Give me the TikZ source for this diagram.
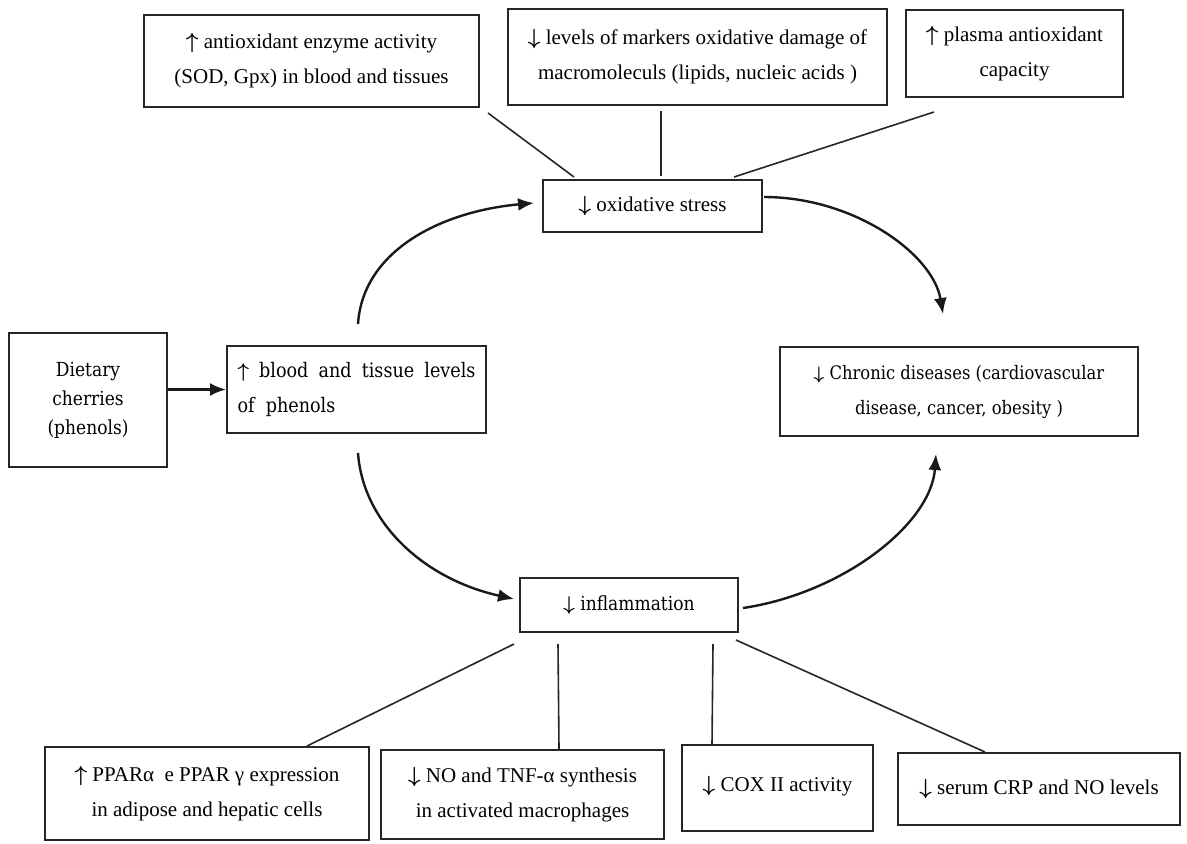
\documentclass[tikz,border=0pt]{standalone}
\usepackage{fontspec}
\setmainfont{Liberation Serif}
\newfontfamily\lucfont[FakeStretch=0.88]{DejaVu Serif}
\usetikzlibrary{calc, shapes, arrows, arrows.meta}
\newcommand{\upar}{{\boldmath$\uparrow$}}
\newcommand{\dnar}{{\boldmath$\downarrow$}}

\begin{document}
\begin{tikzpicture}[x=0.5pt,y=-0.5pt]
\tikzstyle{box}=[draw=black!85,line width=1pt,align=center,inner sep=2pt,font=\fontsize{10.5}{17.5}\selectfont]
\tikzstyle{lbox}=[box,font=\lucfont\fontsize{9.7}{14.5}\selectfont]
\tikzstyle{link}=[line width=0.8pt,black!85]
\tikzstyle{flow}=[line width=1.2pt,black!90,-{Latex[length=8pt,width=6.5pt]}]
\useasboundingbox (0,0) rectangle (1187,843);
\fill[white] (0,0) rectangle (1187,843);
% oxidative branch
\node[box,minimum width=167.5pt,minimum height=46pt] (antiox) at (311.5,61) {\upar\ antioxidant enzyme activity\\(SOD, Gpx) in blood and tissues};
\node[box,minimum width=189.5pt,minimum height=48pt] (levels) at (697.5,57) {\dnar\ levels of markers oxidative damage of\\macromoleculs (lipids, nucleic acids )};
\node[box,minimum width=108.5pt,minimum height=43.5pt] (plasma) at (1014.5,53.5) {\upar\ plasma antioxidant\\capacity};
\node[box,minimum width=109.5pt,minimum height=26pt] (ox) at (652.5,206) {\dnar\ oxidative stress};
% middle row
\node[lbox,minimum width=79pt,minimum height=67pt] (diet) at (88,400) {Dietary\\cherries\\(phenols)};
\node[lbox,align=left,minimum width=129.5pt,minimum height=43.5pt,font=\lucfont\fontsize{10}{17.5}\selectfont] (blood) at (356.5,389.5) {\makebox[119pt][s]{\upar\ blood and tissue levels}\\of\ \ phenols};
\node[lbox,minimum width=179pt,minimum height=44.5pt,font=\lucfont\fontsize{9.3}{17.5}\selectfont] (chronic) at (959,391.5) {\dnar\ Chronic diseases (cardiovascular\\disease, cancer, obesity )};
% inflammation branch
\node[lbox,minimum width=109pt,minimum height=27pt] (inflam) at (629,605) {\dnar\ inflammation};
\node[box,minimum width=162pt,minimum height=46.5pt] (ppar) at (207,793.5) {\upar\ PPARα\ \ e PPAR γ expression\\in adipose and hepatic cells};
\node[box,minimum width=141.5pt,minimum height=44.5pt] (nosyn) at (522.5,794.5) {\dnar\ NO and TNF-α synthesis\\in activated macrophages};
\node[box,minimum width=95.5pt,minimum height=43pt] (cox) at (777.5,788) {\raisebox{4pt}{\dnar\ COX II activity}};
\node[box,minimum width=141pt,minimum height=36pt] (serum) at (1039,789) {\dnar\ serum CRP and NO levels};

\draw[link] ($(antiox.south east)+(8,5)$) -- ($(ox.north west)+(32,-2)$);
\draw[link] ($(levels.south)+(-36.5,5)$) -- ($(ox.north)+(8.5,-3)$);
\draw[link] ($(plasma.south west)+(29,14)$) -- ($(ox.north east)+(-29,-2)$);
\draw[link] ($(inflam.south west)+(-5,11)$) -- ($(ppar.north)+(100,0)$);
\draw[link] ($(inflam.south west)+(39,11)$) -- ($(nosyn.north)+(36.5,0)$);
\draw[link] ($(inflam.south east)+(-26,11)$) -- ($(cox.north)+(-65.5,0)$);
\draw[link] ($(inflam.south east)+(-3,7)$) -- ($(serum.north)+(-54,0)$);

\draw[flow] (diet.east |- blood.west) -- (blood.west);
\draw[flow] ($(blood.north)+(1.5,-21)$) .. controls +(5,-75) and +(-90,8) .. ($(ox.west)+(-8,-3)$);
\draw[flow] ($(ox.east)+(1,-9)$) .. controls +(90,0) and +(-10,-60) .. ($(chronic.north)+(-16,-32)$);
\draw[flow] ($(blood.south)+(1.5,19)$) .. controls +(5,70) and +(-90,-20) .. ($(inflam.west)+(-5,-6)$);
\draw[flow] ($(inflam.east)+(4,3)$) .. controls +(100,-15) and +(-5,70) .. ($(chronic.south)+(-23,17)$);
\end{tikzpicture}
\end{document}
